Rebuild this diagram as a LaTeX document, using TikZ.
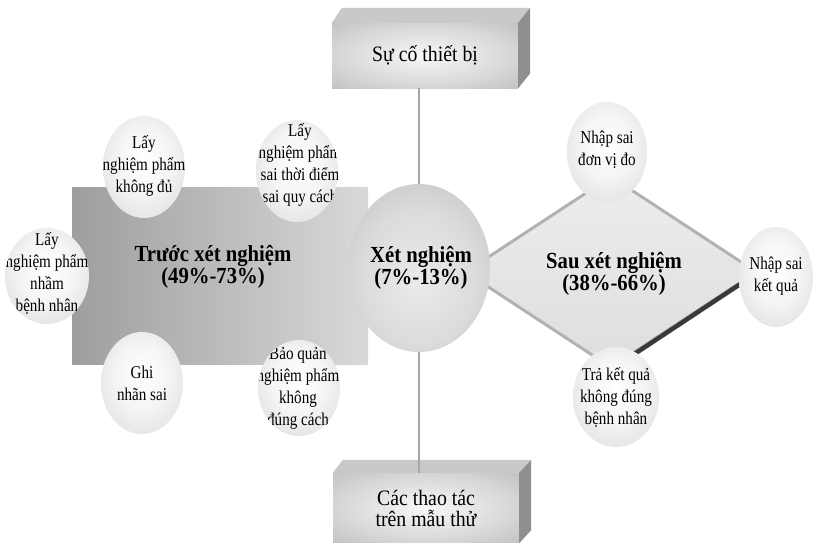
\documentclass[tikz,border=0pt]{standalone}
\usepackage{fontspec}
\setmainfont{Liberation Serif}
\newfontfamily\narrowserif[FakeStretch=0.9]{Liberation Serif}
\newfontfamily\narrowerserif[FakeStretch=0.84]{Liberation Serif}
\usetikzlibrary{shapes.geometric}
\pgfdeclareradialshading{smallball}{\pgfpoint{0bp}{4bp}}{color(0bp)=(white); color(16bp)=(white!96!black); color(30bp)=(gray!22); color(42bp)=(gray!45); color(48bp)=(gray!62); color(50bp)=(gray!75); color(72bp)=(gray!75)}
\pgfdeclareradialshading{bigball}{\pgfpoint{0bp}{-4bp}}{color(0bp)=(gray!16); color(20bp)=(gray!28); color(36bp)=(gray!48); color(45bp)=(gray!76); color(50bp)=(gray!95); color(72bp)=(gray!95)}
\pgfdeclareradialshading{boxface}{\pgfpoint{0bp}{0bp}}{color(0bp)=(gray!6); color(22bp)=(gray!30); color(50bp)=(gray!66); color(72bp)=(gray!70)}
\tikzset{
  smallc/.style={ellipse, inner sep=0pt, shading=smallball, minimum width=82pt, minimum height=102pt},
  smalltxt/.style={align=center, inner sep=0pt, font=\narrowerserif\fontsize{18}{22}\selectfont},
  bigtxt/.style={align=center, inner sep=0pt, font=\narrowserif\bfseries\fontsize{23}{22}\selectfont},
  boxfront/.style={rectangle, inner sep=0pt, shading=boxface, minimum width=186pt, align=center, font=\narrowserif\fontsize{22}{21}\selectfont},
  topface/.style={fill=gray!42},
  sideface/.style={fill=gray!88},
  vline/.style={draw=gray!70, line width=1.3pt}
}
\begin{document}
\begin{tikzpicture}[x=1pt,y=-1pt]
\useasboundingbox (0,0) rectangle (820,542);
\fill[white] (0,0) rectangle (820,542);
% pre-analytic rectangle
\node[rectangle, inner sep=0pt, minimum width=296pt, minimum height=177pt, left color=gray!76, right color=gray!30] (pre) at (220,275.5) {};
\node[bigtxt] (pretxt) at (213,267) {Trước xét nghiệm\\(49\%-73\%)};
% post-analytic diamond
\node[diamond, inner sep=0pt, minimum width=292pt, minimum height=192pt, top color=gray!14, bottom color=gray!26, draw=gray!60, line width=3pt] (dia) at (611,272) {};
\draw[line width=4.5pt, gray!45!black] (dia.east) -- (dia.south);
\node[bigtxt] (diatxt) at (614,274) {Sau xét nghiệm\\(38\%-66\%)};
% boxes
\node[boxfront, minimum height=65pt] (topbox) at (425,55.5) {Sự cố thiết bị};
\fill[topface] (topbox.north west) -- ++(10,-15) -- ([shift={(12,-15)}]topbox.north east) -- (topbox.north east) -- cycle;
\fill[sideface] (topbox.north east) -- ++(12,-15) -- ([shift={(12,-15)}]topbox.south east) -- (topbox.south east) -- cycle;
\node[boxfront, minimum height=70pt] (botbox) at (426,508) {Các thao tác\\trên mẫu thử};
\fill[topface] (botbox.north west) -- ++(10,-13) -- ([shift={(12,-13)}]botbox.north east) -- (botbox.north east) -- cycle;
\fill[sideface] (botbox.north east) -- ++(12,-13) -- ([shift={(12,-13)}]botbox.south east) -- (botbox.south east) -- cycle;
% central ball
\node[ellipse, inner sep=0pt, minimum width=142pt, minimum height=168pt, shading=bigball] (xn) at (419,268) {};
\draw[vline] (xn.north) -- (xn.north |- topbox.south);
\draw[vline] (xn.south) -- (xn.south |- botbox.north);
\node[bigtxt] (xntxt) at (421,268) {Xét nghiệm\\(7\%-13\%)};
% small balls (text clipped to the ball)
\node[smallc, path picture={\node[smalltxt] (c1t) at ([yshift=1pt]path picture bounding box.center) {Lấy\\nghiệm phẩm\\không đủ};}] (c1) at (144,167) {};
\node[smallc, path picture={\node[smalltxt] (c2t) at ([xshift=3pt,yshift=6pt]path picture bounding box.center) {Lấy\\nghiệm phẩm\\sai thời điểm\\sai quy cách};}] (c2) at (297,171) {};
\node[smallc, minimum width=84pt, minimum height=96pt, path picture={\node[smalltxt] (c3t) at ([yshift=3pt]path picture bounding box.center) {Lấy\\nghiệm phẩm\\nhầm\\bệnh nhân};}] (c3) at (47,276) {};
\node[smallc, path picture={\node[smalltxt] (c4t) at (path picture bounding box.center) {Ghi\\nhãn sai};}] (c4) at (142,383) {};
\node[smallc, minimum height=96pt, path picture={\node[smalltxt] (c5t) at ([xshift=-1pt]path picture bounding box.center) {Bảo quản\\nghiệm phẩm\\không\\đúng cách};}] (c5) at (299,388) {};
\node[smallc, minimum width=80pt, minimum height=100pt, path picture={\node[smalltxt] (c6t) at ([yshift=2pt]path picture bounding box.center) {Nhập sai\\đơn vị đo};}] (c6) at (607,152) {};
\node[smallc, minimum width=74pt, minimum height=100pt, path picture={\node[smalltxt] (c7t) at ([yshift=1pt]path picture bounding box.center) {Nhập sai\\kết quả};}] (c7) at (776,277) {};
\node[smallc, minimum width=86pt, minimum height=100pt, path picture={\node[smalltxt] (c8t) at (path picture bounding box.center) {Trả kết quả\\không đúng\\bệnh nhân};}] (c8) at (616,397) {};
\end{tikzpicture}
\end{document}
